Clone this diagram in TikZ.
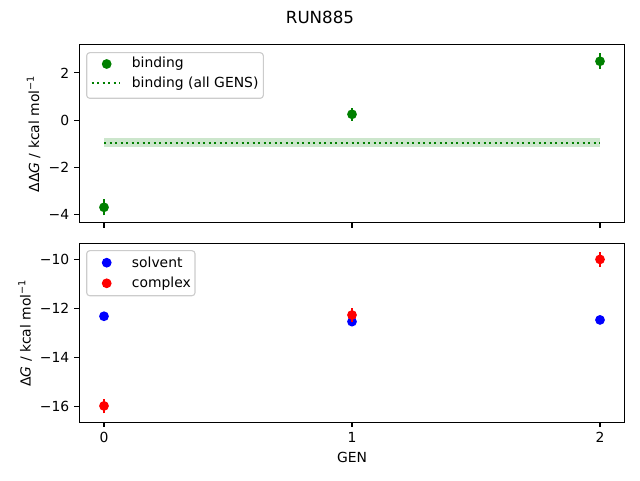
\documentclass[tikz,border=0pt]{standalone}
\usepackage{fontspec}
\setmainfont{DejaVu Sans}
\usepackage{xcolor}
\definecolor{mplgreen}{HTML}{008000}
\definecolor{mplblue}{HTML}{0000FF}
\definecolor{mplred}{HTML}{FF0000}
\definecolor{legframe}{gray}{0.8}
\begin{document}
\begin{tikzpicture}[x=1pt, y=1pt]
\tikzstyle{every node}=[font=\fontsize{13.9}{16}\selectfont, inner sep=0pt]
\tikzstyle{frame}=[line width=1.1pt]
\tikzstyle{tick}=[line width=1.1pt]
\tikzstyle{ebar}=[line width=2.1pt]
\tikzstyle{dot}=[circle, inner sep=0pt, minimum size=9.8pt]
\tikzstyle{legbox}=[draw=legframe, fill=white, fill opacity=0.8,
                    rounded corners=3pt, line width=1.1pt]
\useasboundingbox (0,0) rectangle (640,480);
\node (title) at (320,463) {\fontsize{16.7}{20}\selectfont RUN885};

% top panel: binding
\begin{scope}[shift={(104,359.8)}, x=248pt, y=23.67pt]
\fill[mplgreen, opacity=0.2] (0,-0.77) rectangle (2,-1.14);
\draw[mplgreen, line width=2.1pt, dash pattern=on 2.1pt off 3.4pt] (0,-0.95) -- (2,-0.95);
\foreach \x/\y/\e/\n in {0/-3.68/0.34/ba, 1/0.25/0.28/bb, 2/2.49/0.33/bc}{
  \draw[ebar, mplgreen] (\x,\y-\e) -- (\x,\y+\e);
  \node[dot, fill=mplgreen] (\n) at (\x,\y) {};}
\draw[frame] (-0.1,-4.34) rectangle (2.1,3.18);
\foreach \t/\s/\n in {-4/−4/ya, -2/−2/yb, 0/0/yc, 2/2/yd}{
  \draw[tick] (-0.1,\t) -- ++(-4.9pt,0);
  \node[anchor=east] (\n) at ([xshift=-9.8pt]-0.1,\t) {\s};}
\foreach \x in {0,1,2}{\draw[tick] (\x,-4.34) -- ++(0,-4.9pt);}
\end{scope}
\node[rotate=90] (ylabA) at (33.5,346) {ΔΔ\textit{G} / kcal mol\textsuperscript{−1}};
\draw[legbox] (86.7,381.7) rectangle (263.3,427.3);
\node[dot, fill=mplgreen] (legA) at (106.7,416) {};
\node[anchor=west] (legAt) at (131.7,416) {binding};
\draw[mplgreen, line width=2.1pt, dash pattern=on 2.1pt off 3.4pt] (91.7,396.7) -- (119.3,396.7);
\node[anchor=west] (legBt) at (131.7,396.7) {binding (all GENS)};

% bottom panel: solvent and complex
\begin{scope}[shift={(104,465.6)}, x=248pt, y=24.5pt]
\foreach \x/\y/\n in {0/-12.32/sa, 1/-12.54/sb, 2/-12.47/sc}{
  \node[dot, fill=mplblue] (\n) at (\x,\y) {};}
\foreach \x/\y/\e/\n in {0/-15.98/0.3/ca, 1/-12.27/0.29/cb, 2/-10.0/0.31/cc}{
  \draw[ebar, mplred] (\x,\y-\e) -- (\x,\y+\e);
  \node[dot, fill=mplred] (\n) at (\x,\y) {};}
\draw[frame] (-0.1,-16.65) rectangle (2.1,-9.34);
\foreach \t/\s/\n in {-16/−16/za, -14/−14/zb, -12/−12/zc, -10/−10/zd}{
  \draw[tick] (-0.1,\t) -- ++(-4.9pt,0);
  \node[anchor=east] (\n) at ([xshift=-9.8pt]-0.1,\t) {\s};}
\foreach \x/\n in {0/xa, 1/xb, 2/xc}{
  \draw[tick] (\x,-16.65) -- ++(0,-4.9pt);
  \node[anchor=north] (\n) at ([yshift=-9.8pt]\x,-16.65) {\x};}
\end{scope}
\node (xlab) at (352,22.3) {GEN};
\node[rotate=90] (ylabB) at (25,147) {Δ\textit{G} / kcal mol\textsuperscript{−1}};
\draw[legbox] (86.7,184.3) rectangle (195,229.3);
\node[dot, fill=mplblue] (legC) at (106.7,217.3) {};
\node[anchor=west] (legCt) at (131.7,217.3) {solvent};
\node[dot, fill=mplred] (legD) at (106.7,196.7) {};
\node[anchor=west] (legDt) at (131.7,196.7) {complex};
\end{tikzpicture}
\end{document}
